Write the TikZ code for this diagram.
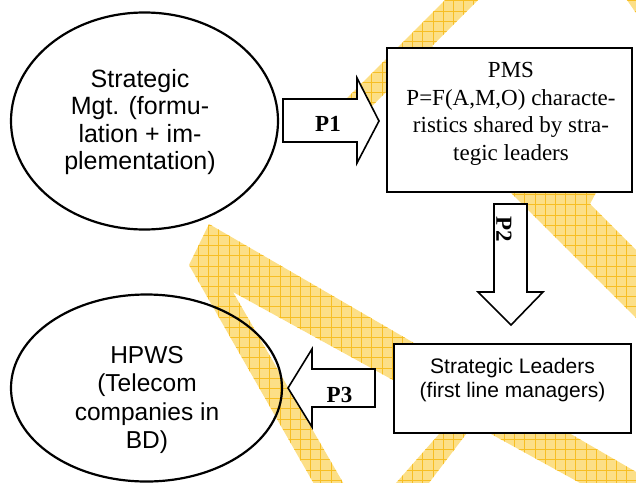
\documentclass[tikz,border=0pt]{standalone}
\usepackage{fontspec}
\setmainfont{Liberation Serif}
\setsansfont{Liberation Sans}
\usetikzlibrary{shapes.geometric}
\definecolor{wmfill}{RGB}{252,223,135}
\definecolor{wmline}{RGB}{247,190,35}
\begin{document}
\begin{tikzpicture}[x=1pt,y=-1pt,
  wm/.style={fill=wmfill,draw=none},
  wmgrid/.style={draw=wmline,line width=0.55pt},
  oval/.style={draw,ellipse,line width=2.2pt,inner sep=0pt},
  boxnode/.style={draw,fill=white,line width=2pt,inner sep=0pt,rectangle},
  blockarrow/.style={draw,fill=white,line width=1.6pt,line join=miter},
  sanstext/.style={font=\sffamily\fontsize{25}{27.3}\selectfont,align=center,inner sep=0pt},
  seriftext/.style={font=\rmfamily\fontsize{23}{27.7}\selectfont,align=center,inner sep=0pt},
  sltext/.style={font=\sffamily\fontsize{21}{24}\selectfont,align=center,inner sep=0pt},
  plabel/.style={font=\rmfamily\bfseries\fontsize{23}{23}\selectfont,inner sep=0pt}
]
\useasboundingbox (0,0) rectangle (636,482);
% watermark
\begin{scope}
\clip (0,0) rectangle (636,482);
\path[wm] (450,-5) -- (483,-5) -- (432,46) -- (600,185) -- (590,204) -- (700,314) -- (700,382) -- (398,80) -- (353,125) -- (320,125) -- cycle;
\path[wm] (209,224) -- (700,509) -- (700,549) -- (233,292) -- (360,512) -- (330,512) -- (189,265) -- cycle;
\path[wm] (469,400) -- (492,400) -- (416,500) -- (381,500) -- cycle;
\path[wm] (623.5,-5) -- (645,-5) -- (645,26) -- cycle;
\clip (450,-5) -- (483,-5) -- (432,46) -- (600,185) -- (590,204) -- (700,314) -- (700,382) -- (398,80) -- (353,125) -- (320,125) -- cycle
      (209,224) -- (700,509) -- (700,549) -- (233,292) -- (360,512) -- (330,512) -- (189,265) -- cycle
      (469,400) -- (492,400) -- (416,500) -- (381,500) -- cycle
      (623.5,-5) -- (645,-5) -- (645,26) -- cycle;
\foreach \i in {0,...,63} {
  \draw[wmgrid] (\i*10.2+4.5,-10) -- (\i*10.2+4.5,500);
  \draw[wmgrid] (-10,\i*10.2+0.6) -- (650,\i*10.2+0.6);
}
\end{scope}
% shapes
\node[oval,minimum width=267pt,minimum height=217pt] (sm) at (144.5,121) {};
\node[sanstext] (smt) at (140,122) {Strategic\\Mgt. (formu-\\lation + im-\\plementation)};
\node[oval,minimum width=271pt,minimum height=187pt] (hpws) at (146.5,388) {};
\node[sanstext,font=\sffamily\fontsize{24.5}{28.2}\selectfont] (hpwst) at (147,400) {HPWS\\(Telecom\\companies in\\BD)};
\node[boxnode,minimum width=245pt,minimum height=144pt] (pms) at (509.5,120) {};
\node[seriftext] (pmst) at (511,114) {PMS\\P=F(A,M,O) characte-\\ristics shared by stra-\\tegic leaders};
\node[boxnode,minimum width=237pt,minimum height=89pt] (sl) at (512.5,388.5) {};
\node[sltext] (slt) at (512.5,380) {Strategic Leaders\\(first line managers)};
% block arrows
\draw[blockarrow] (283,99) -- (357,99) -- (357,78) -- (379,121) -- (357,163) -- (357,142) -- (283,142) -- cycle;
\node[plabel] (p1) at (328,124) {P1};
\draw[blockarrow] (494,204) -- (527,204) -- (527,292) -- (543,292) -- (511,325) -- (478,292) -- (494,292) -- cycle;
\node[plabel,rotate=-90] (p2) at (504,229.5) {P2};
\draw[blockarrow] (375,369) -- (312,369) -- (312,349) -- (288,388) -- (312,427) -- (312,407) -- (375,407) -- cycle;
\node[plabel] (p3) at (339.5,395) {P3};
\end{tikzpicture}
\end{document}
